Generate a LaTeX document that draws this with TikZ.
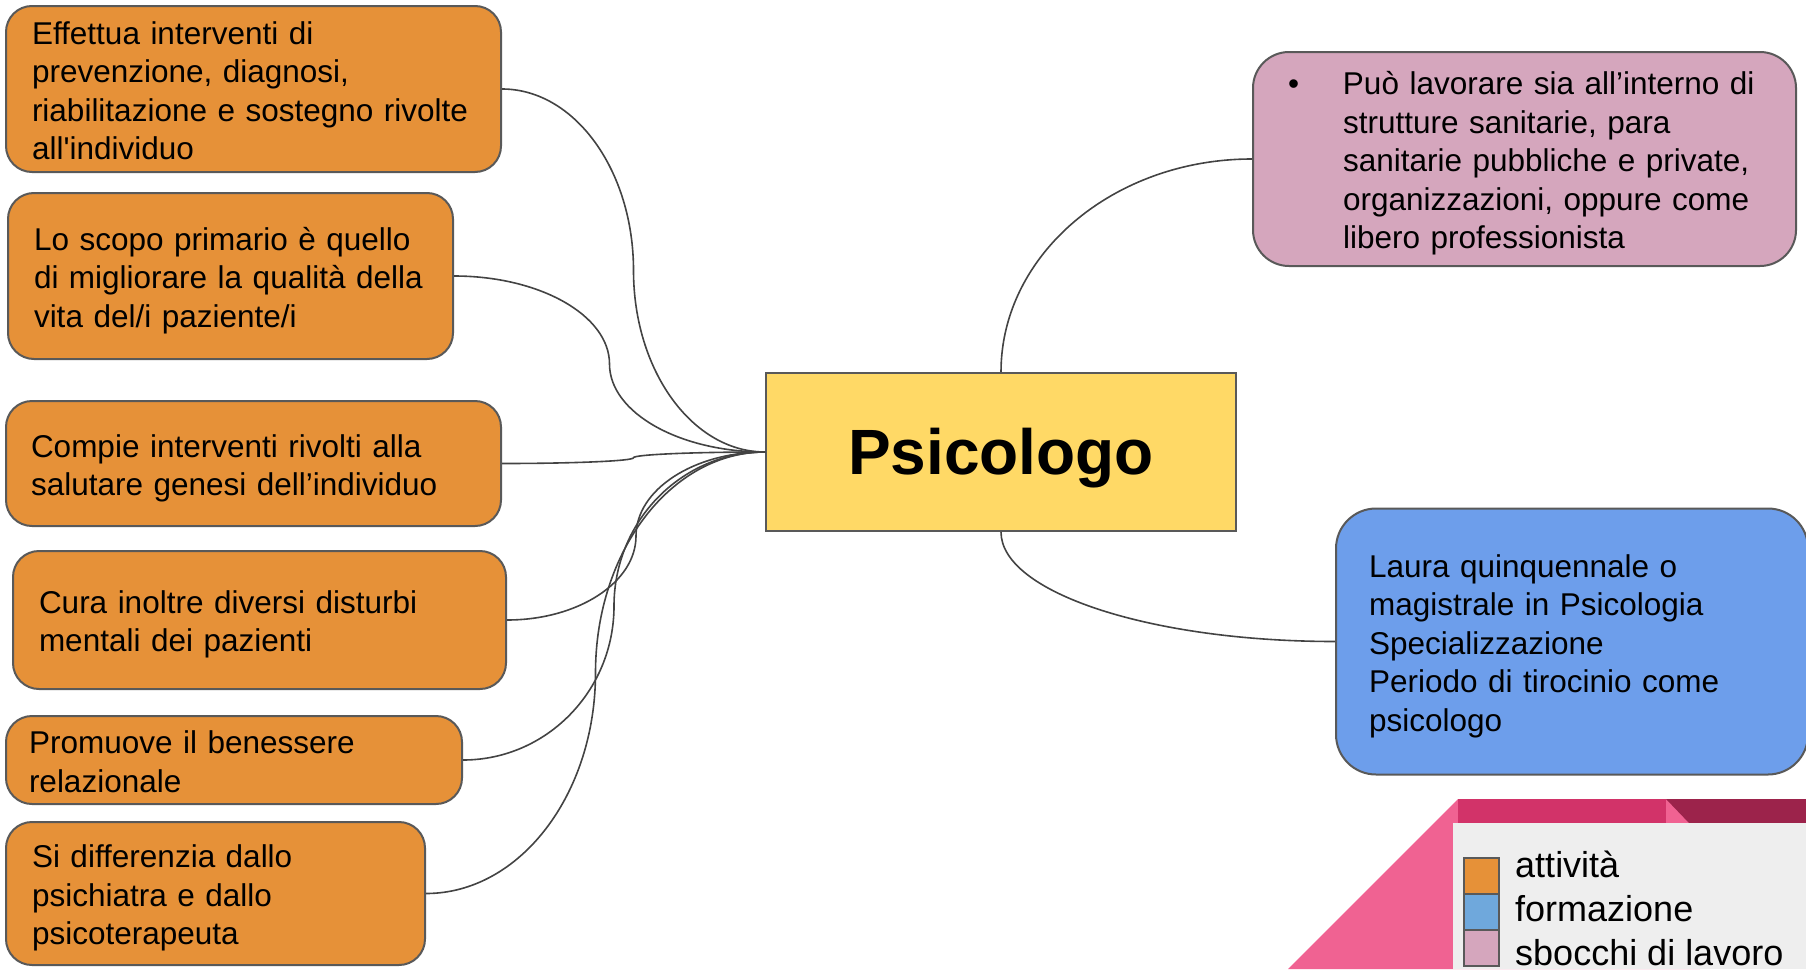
\documentclass[tikz,border=0pt]{standalone}
\usepackage{fontspec}
\setmainfont{Liberation Sans}
\usetikzlibrary{calc}

\definecolor{linegray}{HTML}{434343}
\definecolor{boxgray}{HTML}{595959}
\definecolor{attorange}{HTML}{E69138}
\definecolor{sbopink}{HTML}{D5A6BD}
\definecolor{forblue}{HTML}{6D9EEB}
\definecolor{psiyellow}{HTML}{FFD966}
\definecolor{legblue}{HTML}{6FA8DC}
\definecolor{legpanel}{HTML}{EEEEEE}
\definecolor{legrose}{HTML}{F06292}
\definecolor{legcrimson}{HTML}{D23369}
\definecolor{legdark}{HTML}{9C234B}

\begin{document}
\begin{tikzpicture}[x=1pt, y=-1pt]
      \tikzset{textlift/.initial=32pt,
        box/.style = {draw=boxgray, line width=2pt,
          inner xsep=0pt, inner ysep=0pt, align=left,
          font=\fontsize{31.5}{38.4}\selectfont,
          execute at begin node={\rule{0pt}{\pgfkeysvalueof{/tikz/textlift}}}},
        raised/.style = {textlift=26pt},
        attivita/.style = {box, fill=attorange, rounded corners=26pt},
        sbocchi/.style  = {box, fill=sbopink, rounded corners=36pt},
        formazione/.style = {box, fill=forblue, rounded corners=40pt},
        centro/.style = {draw=boxgray, line width=2pt, fill=psiyellow,
          text height=59pt, text depth=13.4pt,
          font=\fontsize{64}{70}\selectfont\bfseries},
        ramo/.style = {draw=linegray, line width=1.6pt},
        legsq/.style = {draw=boxgray, line width=2pt, minimum width=35pt,
          minimum height=36pt, inner sep=0pt},
        legtxt/.style = {font=\fontsize{36}{43}\selectfont, inner sep=0pt}}
      \useasboundingbox (0,0) rectangle (1806,969);
      % centre
      \node[centro, minimum width=470pt, minimum height=158pt] (psi) at (1001,452) {Psicologo};
      % attivita
      \node[attivita, raised, minimum width=495pt, minimum height=166pt, text width=443pt] (a1) at (253.5,89)
        {Effettua interventi di\\prevenzione, diagnosi,\\riabilitazione e sostegno rivolte\\all\textquotesingle individuo};
      \node[attivita, minimum width=445pt, minimum height=166pt, text width=393pt] (a2) at (230.5,276)
        {Lo scopo primario è quello\\di migliorare la qualità della\\vita del/i paziente/i};
      \node[attivita, minimum width=495pt, minimum height=125pt, text width=445pt] (a3) at (253.5,463.5)
        {Compie interventi rivolti alla\\salutare genesi dell’individuo};
      \node[attivita, minimum width=493pt, minimum height=138pt, text width=441pt] (a4) at (259.5,620)
        {Cura inoltre diversi disturbi\\mentali dei pazienti};
      \node[attivita, raised, minimum width=456pt, minimum height=88pt, text width=410pt] (a5) at (234,760)
        {Promuove il benessere\\relazionale};
      \node[attivita, minimum width=419pt, minimum height=143pt, text width=367pt] (a6) at (215.5,893.5)
        {Si differenzia dallo\\psichiatra e dallo\\psicoterapeuta};
      % sbocchi e formazione
      \node[sbocchi, minimum width=543pt, minimum height=214pt, text width=473pt] (s1) at (1524.5,159)
        {\makebox[55pt][l]{•}Può lavorare sia all’interno di\\\hspace*{55pt}strutture sanitarie, para\\
         \hspace*{55pt}sanitarie pubbliche e private,\\\hspace*{55pt}organizzazioni, oppure come\\
         \hspace*{55pt}libero professionista};
      \node[formazione, minimum width=472pt, minimum height=266pt, text width=406pt] (f1) at (1572,641.5)
        {Laura quinquennale o\\magistrale in Psicologia\\Specializzazione\\Periodo di tirocinio come\\psicologo};
      % rami
      \foreach \b in {a1,a2,a3,a4,a5,a6}{
        \coordinate (m) at ($(\b.east)!0.5!(psi.west)$);
        \coordinate (k1) at (\b.east -| m);
        \coordinate (k2) at (psi.west -| m);
        \draw[ramo] (\b.east) .. controls ($(\b.east)!0.552!(k1)$) and ($(m)!0.552!(k1)$) .. (m)
          .. controls ($(m)!0.552!(k2)$) and ($(psi.west)!0.552!(k2)$) .. (psi.west);
      }
      \coordinate (k3) at (psi.north |- s1.west);
      \draw[ramo] (psi.north) .. controls ($(psi.north)!0.552!(k3)$) and ($(s1.west)!0.552!(k3)$) .. (s1.west);
      \coordinate (k4) at (psi.south |- f1.west);
      \draw[ramo] (psi.south) .. controls ($(psi.south)!0.552!(k4)$) and ($(f1.west)!0.552!(k4)$) .. (f1.west);
      % legenda
      \fill[legrose] (1458,799) -- (1288,969) -- (1700,969) -- (1700,799) -- cycle;
      \fill[legcrimson] (1458,799) rectangle (1666,823);
      \fill[legdark] (1666,799) -- (1806,799) -- (1806,823) -- (1689,823) -- cycle;
      \fill[legpanel] (1453,823) rectangle (1806,969);
      \foreach \col/\txt [count=\i] in {attorange/attività, legblue/formazione, sbopink/sbocchi di lavoro}{
        \node[legsq, fill=\col] (q\i) at (1481.5,{876+36*(\i-1)}) {};
        \node[legtxt, anchor=base west] (t\i) at (1515,{877+44*(\i-1)}) {\txt};
      }
\end{tikzpicture}
\end{document}
